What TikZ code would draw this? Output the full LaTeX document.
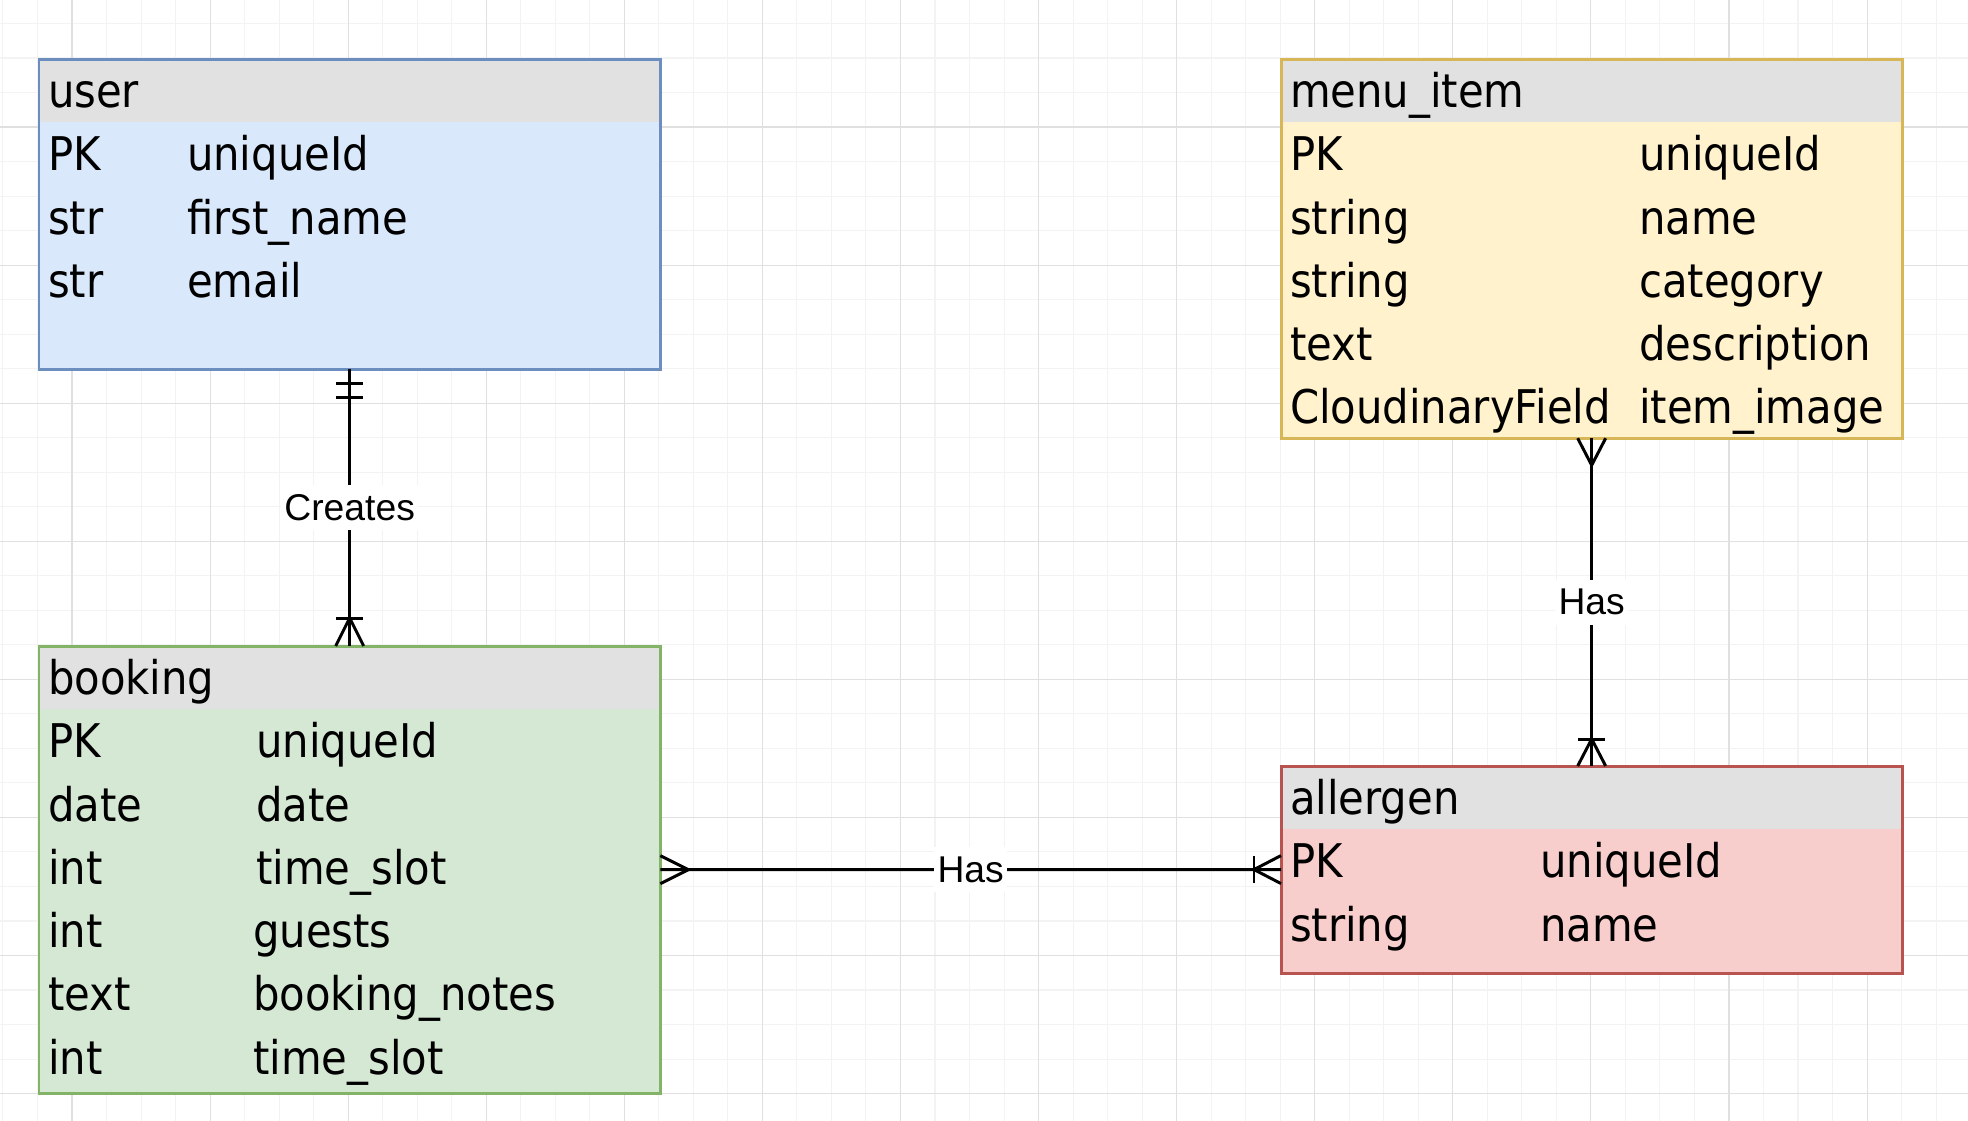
\documentclass[tikz,border=0pt]{standalone}
\usepackage{fontspec}
\setmainfont{DejaVu Sans Condensed}
\newfontfamily\labelfont{Liberation Sans}
\usepackage{tikz}
\usetikzlibrary{positioning,calc}
\definecolor{userfill}{HTML}{DAE8FC}
\definecolor{userline}{HTML}{6C8EBF}
\definecolor{bookfill}{HTML}{D5E8D4}
\definecolor{bookline}{HTML}{82B366}
\definecolor{menufill}{HTML}{FFF2CC}
\definecolor{menuline}{HTML}{D6B656}
\definecolor{allergfill}{HTML}{F8CECC}
\definecolor{allergline}{HTML}{B85450}
\definecolor{headgray}{HTML}{E1E1E1}
\definecolor{gridmajorc}{HTML}{E0E0E0}
\definecolor{gridminorc}{HTML}{F3F3F3}
\newcommand{\erow}[3]{\makebox[#1][l]{#2}#3}
\tikzset{
  table/.style={rectangle, draw, line width=0.85pt, anchor=north west, minimum width=6.21cm, inner sep=0pt, outer sep=0pt,
    path picture={\fill[headgray] (path picture bounding box.north west) rectangle ([yshift=-0.628cm]path picture bounding box.north east);}},
  usertable/.style={table, fill=userfill, draw=userline},
  booktable/.style={table, fill=bookfill, draw=bookline},
  menutable/.style={table, fill=menufill, draw=menuline},
  allergtable/.style={table, fill=allergfill, draw=allergline},
  entry/.style={anchor=north west, minimum height=0.632cm, text width=6.03cm, inner xsep=0.09cm, inner ysep=0pt, outer sep=0pt,
    text height=0.41cm, text depth=0.07cm, align=left, font=\fontsize{13.2}{15}\selectfont},
  link/.style={line width=0.85pt, black},
  linklabel/.style={fill=white, inner xsep=1pt, inner ysep=2.7pt, font=\labelfont\fontsize{10.6}{12}\selectfont},
  gridminor/.style={draw=gridminorc, line width=0.3pt},
  gridmajor/.style={draw=gridmajorc, line width=0.3pt},
}

\begin{document}
\begin{tikzpicture}[x=0.01cm, y=-0.01cm]
  \useasboundingbox[fill=white] (0,0) rectangle (1968,1120);

  % Grid paper
  \begin{scope}[shift={(72,127)}]
    \draw[gridminor, step=0.345cm] (-0.72cm,-9.93cm) grid (18.96cm,1.27cm);
    \draw[gridmajor, step=1.38cm] (-0.72cm,-9.93cm) grid (18.96cm,1.27cm);
  \end{scope}

  % Table: user
  \node[usertable, minimum height=3.10cm] (user) at (39,59) {};
  \node[entry] (user-head) at (user.north west) {user};
  \node[entry, below=0pt of user-head] (user-pk) {\erow{1.39cm}{PK}{uniqueId}};
  \node[entry, below=0pt of user-pk] (user-first) {\erow{1.39cm}{str}{first\_name}};
  \node[entry, below=0pt of user-first] (user-email) {\erow{1.39cm}{str}{email}};

  % Table: booking
  \node[booktable, minimum height=4.47cm] (booking) at (39,646) {};
  \node[entry] (booking-head) at (booking.north west) {booking};
  \node[entry, below=0pt of booking-head] (booking-pk) {\erow{2.08cm}{PK}{uniqueId}};
  \node[entry, below=0pt of booking-pk] (booking-date) {\erow{2.08cm}{date}{date}};
  \node[entry, below=0pt of booking-date] (booking-slot) {\erow{2.08cm}{int}{time\_slot}};
  \node[entry, below=0pt of booking-slot] (booking-guests) {\erow{2.05cm}{int}{guests}};
  \node[entry, below=0pt of booking-guests] (booking-notes) {\erow{2.05cm}{text}{booking\_notes}};
  \node[entry, below=0pt of booking-notes] (booking-slot2) {\erow{2.05cm}{int}{time\_slot}};

  % Table: menu_item
  \node[menutable, minimum height=3.79cm] (menu) at (1281,59) {};
  \node[entry] (menu-head) at (menu.north west) {menu\_item};
  \node[entry, below=0pt of menu-head] (menu-pk) {\erow{3.49cm}{PK}{uniqueId}};
  \node[entry, below=0pt of menu-pk] (menu-name) {\erow{3.49cm}{string}{name}};
  \node[entry, below=0pt of menu-name] (menu-cat) {\erow{3.49cm}{string}{category}};
  \node[entry, below=0pt of menu-cat] (menu-desc) {\erow{3.49cm}{text}{description}};
  \node[entry, below=0pt of menu-desc] (menu-image) {\erow{3.49cm}{CloudinaryField}{item\_image}};

  % Table: allergen
  \node[allergtable, minimum height=2.07cm] (allergen) at (1281,766) {};
  \node[entry] (allergen-head) at (allergen.north west) {allergen};
  \node[entry, below=0pt of allergen-head] (allergen-pk) {\erow{2.50cm}{PK}{uniqueId}};
  \node[entry, below=0pt of allergen-pk] (allergen-name) {\erow{2.50cm}{string}{name}};

  % Relations
  \draw[link] (user) -- node[linklabel] {Creates} (booking);
  \draw[link] (menu) -- node[linklabel] {Has} (allergen);
  \draw[link] (booking) -- node[linklabel] {Has} (allergen);

  % Crow's foot ends
  \draw[link] ($(user.south)+(-13.5,14)$) -- ++(27,0) ($(user.south)+(-13.5,28)$) -- ++(27,0);
  \draw[link] ($(booking.north)+(-13.5,-28)$) -- ++(27,0);
  \draw[link] ($(booking.north)+(-14,0)$) -- ($(booking.north)+(0,-28)$) -- ($(booking.north)+(14,0)$);
  \draw[link] ($(menu.south)+(-14,0)$) -- ($(menu.south)+(0,27)$) -- ($(menu.south)+(14,0)$);
  \draw[link] ($(allergen.north)+(-13.5,-27)$) -- ++(27,0);
  \draw[link] ($(allergen.north)+(-14,0)$) -- ($(allergen.north)+(0,-27)$) -- ($(allergen.north)+(14,0)$);
  \draw[link] ($(booking.east)+(0,-14)$) -- ($(booking.east)+(28,0)$) -- ($(booking.east)+(0,14)$);
  \draw[link] ($(allergen.west)+(-27,-13.5)$) -- ++(0,27);
  \draw[link] ($(allergen.west)+(0,-14)$) -- ($(allergen.west)+(-27,0)$) -- ($(allergen.west)+(0,14)$);

\end{tikzpicture}
\end{document}
